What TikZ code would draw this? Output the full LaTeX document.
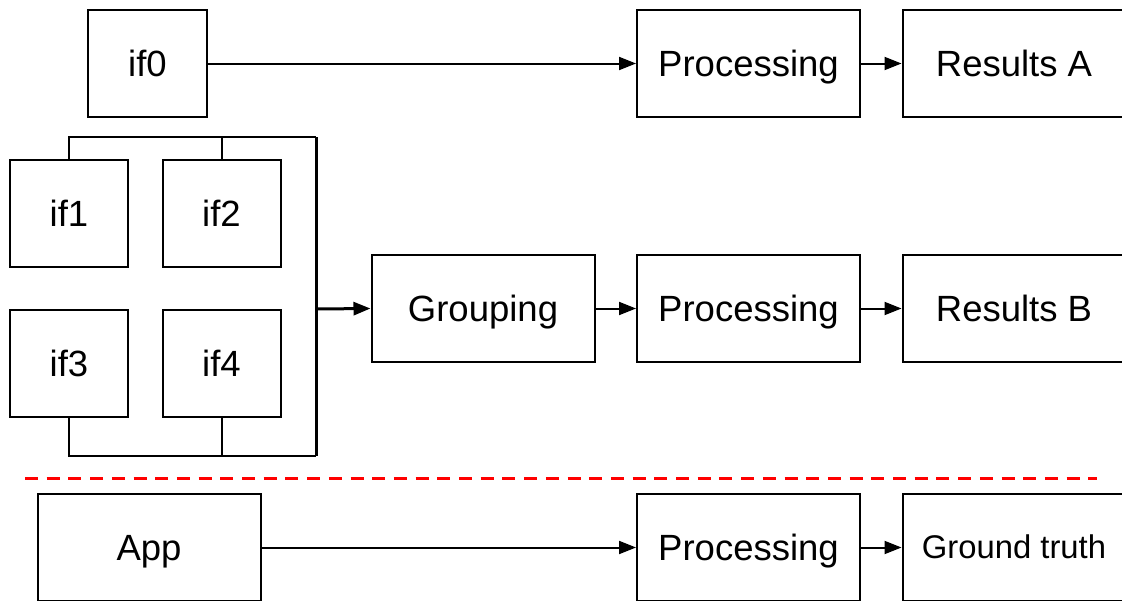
\documentclass[tikz,border=0pt]{standalone}
\usepackage{fontspec}
\setmainfont{Liberation Sans}
\usetikzlibrary{arrows.meta}
\begin{document}
\begin{tikzpicture}[x=1pt,y=-1pt,
  box/.style={draw,line width=2pt,minimum height=107pt,inner sep=0pt,text height=26.3pt,text depth=1pt,font=\fontsize{36.5}{40}\selectfont},
  wide/.style={box,minimum width=223pt},
  sq/.style={box,minimum width=118pt},
  tip/.style={-{Triangle[length=17pt,width=13pt]}},
  arr/.style={line width=2pt,tip},
  brk/.style={line width=2pt},
]
\useasboundingbox (0,0) rectangle (1122,600);
\clip (0,0) rectangle (1122,600);
\node[sq,minimum width=119pt] (if0) at (147.5,63.5) {if0};
\node[wide] (p1) at (748.5,63.5) {Processing};
\node[wide] (ra) at (1014,63.5) {Results A};
\node[sq] (if1) at (69,213.5) {if1};
\node[sq] (if2) at (221.5,213.5) {if2};
\node[sq] (if3) at (69,363.5) {if3};
\node[sq] (if4) at (221.5,363.5) {if4};
\node[wide] (gr) at (483,308.5) {Grouping};
\node[wide] (p2) at (748.5,308.5) {Processing};
\node[wide] (rb) at (1014,308.5) {Results B};
\node[wide] (app) at (149,547.5) {App};
\node[wide] (p3) at (748.5,547.5) {Processing};
\node[wide,text height=23.6pt,font=\fontsize{32.8}{36}\selectfont] (gt) at (1014,547.5) {Ground truth};
\coordinate (tr) at (316,137);
\coordinate (br) at (316,456);
\coordinate (mr) at (316,309);
\draw[brk] (if1.north) |- (tr);
\draw[brk] (if2.north) |- (tr);
\draw[brk] (if3.south) |- (br);
\draw[brk] (if4.south) |- (br);
\draw[line width=3pt] (tr) -- (br);
\draw[line width=3pt,tip] (mr) -- (gr.west);
\draw[arr] (if0) -- (p1);
\draw[arr] (p1) -- (ra);
\draw[arr] (gr) -- (p2);
\draw[arr] (p2) -- (rb);
\draw[arr] (app) -- (p3);
\draw[arr] (p3) -- (gt);
\coordinate (dl) at (25,478);
\coordinate (dr) at (1097,478);
\draw[red,line width=3pt,dash pattern=on 13pt off 8.7pt] (dl) -- (dr);
\end{tikzpicture}
\end{document}
